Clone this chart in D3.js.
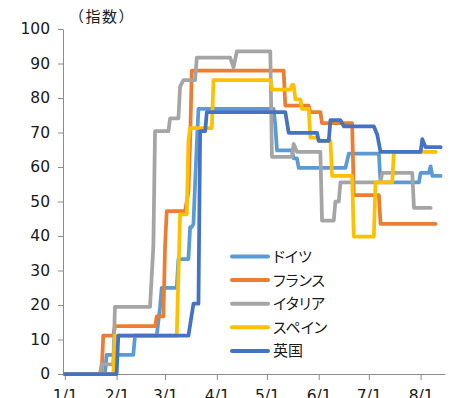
<!DOCTYPE html>
<html>
<head>
<meta charset="utf-8">
<script src="https://cdn.jsdelivr.net/npm/d3@7"></script>
<style>
  html, body { margin: 0; padding: 0; background: #fff; overflow: hidden; }
  svg { display: block; }
  .num { font-family: "DejaVu Sans", sans-serif; font-size: 15.5px; fill: #1a1a1a; }
  .jp { font-family: "Noto Sans CJK JP", sans-serif; fill: #1a1a1a; }
  .prop { font-feature-settings: "palt"; }
</style>
</head>
<body>
<svg id="chart" width="454" height="398"></svg>
<script>
// Stringency index by country, 2020. Points are [days since Jan 1, index].
const germany = [[0,0],[24,0],[25,5.56],[41,5.56],[42,11.11],[55,11.11],[57,19.44],[58,25],[67,25],[68,33.33],[74,33.33],[75,42.59],[76,42.59],[77,43.52],[78,55.56],[79,66.67],[80,76.85],[125,76.85],[126,72.22],[127,64.81],[136,64.81],[137,62.5],[139,62.5],[140,59.72],[168,59.72],[170,63.89],[188,63.89],[189,55.56],[212,55.56],[213,58.33],[218,58.33],[219,60.19],[220,57.41],[225,57.41]];
const france = [[0,0],[22,0],[23,11.11],[29,11.11],[30,13.89],[54,13.89],[55,16.67],[59,16.67],[60,37.04],[61,47.22],[72,47.22],[74,52.78],[75,67.59],[76,87.96],[131,87.96],[132,77.78],[146,77.78],[147,75.93],[153,75.93],[154,72.69],[172,72.69],[173,51.85],[188,51.85],[189,43.52],[222,43.52]];
const italy = [[0,0],[21,0],[22,2.78],[29,2.78],[30,19.44],[51,19.44],[53,37.04],[54,70.37],[62,70.37],[63,74.07],[68,74.07],[69,83.33],[71,85.19],[78,85.19],[79,91.67],[99,91.67],[101,88.89],[103,93.52],[123,93.52],[124,62.96],[136,62.96],[137,66.67],[139,64.35],[153,64.35],[154,44.44],[161,44.44],[162,50],[164,50],[165,55.56],[189,55.56],[190,58.33],[208,58.33],[209,48.15],[219,48.15]];
const spain = [[0,0],[29,0],[30,11.11],[67,11.11],[69,46.3],[73,46.3],[74,67.59],[75,71.3],[88,71.3],[89,85.19],[123,85.19],[124,82.41],[135,82.41],[136,83.8],[137,83.8],[138,79.63],[141,79.63],[142,76.85],[146,76.85],[147,68.52],[151,68.52],[152,67.59],[159,67.59],[160,57.41],[172,57.41],[173,39.81],[185,39.81],[186,55.56],[196,55.56],[197,64.35],[222,64.35]];
const uk = [[0,0],[31,0],[32,11.11],[74,11.11],[77,20.37],[80,20.37],[81,70.37],[84,70.37],[85,75.93],[132,75.93],[134,69.91],[151,69.91],[152,67.59],[158,67.59],[159,73.61],[165,73.61],[167,71.76],[185,71.76],[187,69.44],[189,64.35],[213,64.35],[214,68.06],[216,65.74],[225,65.74]];

const seriesNames = ["ドイツ", "フランス", "イタリア", "スペイン", "英国"];
const seriesData = [germany, france, italy, spain, uk];
const seriesColors = ["#5B9BD5", "#ED7D31", "#A5A5A5", "#FFC000", "#4472C4"];
const yTicks = [0, 10, 20, 30, 40, 50, 60, 70, 80, 90, 100];
const unitLabel = "（指数）";

const DAY = 86400000;
const START = Date.UTC(2020, 0, 1);
const toDate = d => new Date(START + d * DAY);

const svg = d3.select("#chart");

const x = d3.scaleUtc()
  .domain([toDate(-1.1), toDate(227.6)])
  .range([63, 445]);
const y = d3.scaleLinear()
  .domain([0, 100])
  .range([374, 29]);

const axisColor = "#8c8c8c";

// y axis
const gy = svg.append("g")
  .attr("transform", `translate(${x.range()[0]},0)`)
  .call(d3.axisLeft(y).tickValues(yTicks).tickSize(5).tickSizeOuter(0).tickPadding(8));
gy.select(".domain").attr("stroke", axisColor);
gy.selectAll(".tick line").attr("stroke", axisColor);
gy.selectAll(".tick text").attr("class", "num").attr("font-family", null).attr("font-size", null).attr("fill", null);

// x axis (month starts)
const monthTicks = d3.utcMonth.range(toDate(0), toDate(214));
const gx = svg.append("g")
  .attr("transform", `translate(0,${y(0)})`)
  .call(d3.axisBottom(x).tickValues(monthTicks).tickFormat(d3.utcFormat("%-m/%-d"))
    .tickSize(6).tickSizeOuter(0).tickPadding(10));
gx.select(".domain").attr("stroke", axisColor);
gx.selectAll(".tick line").attr("stroke", axisColor);
gx.selectAll(".tick text").attr("class", "num").attr("font-family", null).attr("font-size", null).attr("fill", null);

// unit label
svg.append("text")
  .attr("class", "jp")
  .attr("x", 69)
  .attr("y", 22)
  .attr("font-size", 15)
  .attr("letter-spacing", 1.5)
  .text(unitLabel);

// series lines
const line = d3.line()
  .x(d => x(toDate(d[0])))
  .y(d => y(d[1]));

svg.append("g")
  .selectAll("path")
  .data(seriesData)
  .join("path")
  .attr("d", line)
  .attr("fill", "none")
  .attr("stroke", (d, i) => seriesColors[i])
  .attr("stroke-width", 3.75)
  .attr("stroke-linejoin", "round")
  .attr("stroke-linecap", "round");

// legend
const legend = svg.append("g");
const rows = legend.selectAll("g")
  .data(seriesNames)
  .join("g")
  .attr("transform", (d, i) => `translate(0,${256.5 + i * 23.6})`);
rows.append("line")
  .attr("x1", 232).attr("x2", 268)
  .attr("stroke", (d, i) => seriesColors[i])
  .attr("stroke-width", 4)
  .attr("stroke-linecap", "round");
rows.append("text")
  .attr("class", "jp prop")
  .attr("x", 273)
  .attr("dy", "0.36em")
  .attr("font-size", 15)
  .text(d => d);
</script>
</body>
</html>
